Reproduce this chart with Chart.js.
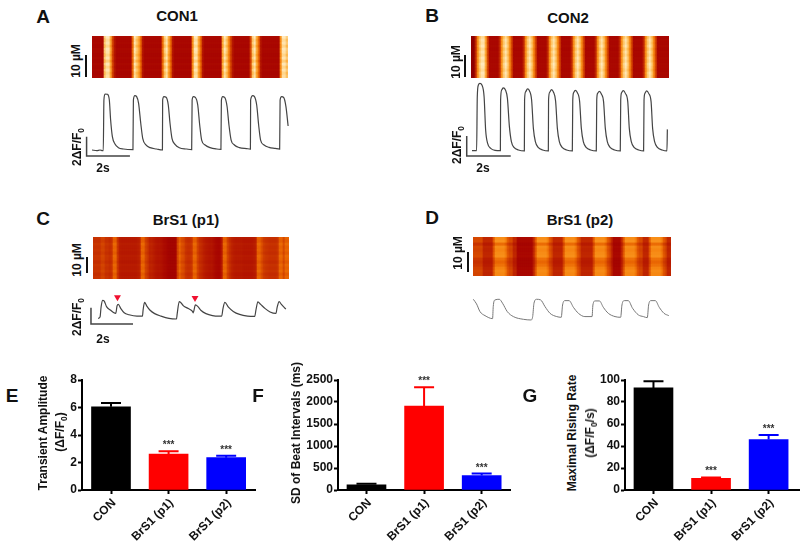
<!DOCTYPE html>
<html lang="en">
<head>
<meta charset="UTF-8">
<title>Calcium transients</title>
<script src="https://cdn.jsdelivr.net/npm/chart.js"></script>
<style>
    html, body { margin: 0; padding: 0; background: #fff; overflow: hidden; }
    body { width: 800px; height: 548px; position: relative; font-family: "Liberation Sans", Arial, sans-serif; font-weight: bold; color: #111; }
    canvas { position: absolute; }
    .txt { position: absolute; white-space: nowrap; line-height: 1; transform: translate(-50%, -50%); }
    .txt sub { font-size: 70%; line-height: 0; }
    .bar { position: absolute; background: #111; }
</style>
</head>
<body>
<script>
// bar panels
const groups = ['CON', 'BrS1 (p1)', 'BrS1 (p2)'];
const barColors = ['#000000', '#ff0000', '#0000ff'];
const stars = ['', '***', '***'];
const amplitudeMean = [6.05, 2.62, 2.35];
const amplitudeTop = [6.33, 2.81, 2.5];
const intervalMean = [120, 1907, 330];
const intervalTop = [143, 2335, 375];
const risingMean = [92.8, 10.5, 45.8];
const risingTop = [98.8, 11.4, 50];

// traces: time in s, signal in dF/F0
const traceAt = [0,.22,.37,.49,.52,.55,.60,.71,.80,.86,.94,1.06,1.22,1.45,1.89,1.91,1.98,2.06,2.15,2.25,2.34,2.49,2.68,2.98,3.25,3.26,3.32,3.42,3.52,3.60,3.69,3.83,4.03,4.37,4.60,4.62,4.68,4.77,4.88,4.97,5.06,5.22,5.45,5.75,5.95,5.97,6.03,6.12,6.23,6.32,6.42,6.57,6.80,7.14,7.31,7.32,7.42,7.49,7.60,7.69,7.78,7.94,8.17,8.45,8.66,8.68,8.75,8.85,8.95,9.05];
const traceAv = [.07,0,.07,0,0,5.24,5.86,5.83,5.24,3.17,1.45,.69,.31,.17,.10,5.24,5.69,5.59,4.90,2.83,1.28,.59,.31,.17,.07,5.24,5.59,5.52,4.72,2.83,1.28,.66,.31,.17,.10,5.24,5.59,5.52,4.72,2.66,1.10,.59,.31,.17,.14,5.17,5.59,5.52,4.62,2.66,1.10,.59,.31,.21,.17,5.24,5.69,5.62,4.72,2.66,1.10,.59,.34,.24,.17,5.24,5.59,5.48,4.55,2.55];
const traceBt = [0,.21,.24,.29,.36,.45,.55,.62,.71,.85,1.05,1.29,1.30,1.35,1.42,1.52,1.61,1.70,1.79,1.92,2.11,2.38,2.39,2.44,2.52,2.61,2.71,2.79,2.88,3.02,3.21,3.47,3.48,3.53,3.61,3.70,3.80,3.88,3.97,4.11,4.30,4.56,4.58,4.62,4.70,4.79,4.89,4.97,5.06,5.20,5.39,5.65,5.67,5.71,5.79,5.88,5.98,6.06,6.15,6.29,6.48,6.74,6.76,6.80,6.88,6.97,7.08,7.15,7.24,7.38,7.58,7.80,7.82,7.86,7.94,8.03,8.14,8.21,8.30,8.44,8.64,8.86,8.88];
const traceBv = [0,0,5.40,6.57,6.73,6.57,5.40,2.07,.73,.23,.03,0,5.07,6.07,6.27,6.07,5.23,2.40,.90,.30,.07,-.03,5.07,5.90,6.17,6.00,5.07,2.23,.90,.30,.07,-.03,5.07,5.83,6.10,5.87,4.97,2.23,.90,.30,.07,-.03,5.07,5.80,6.03,5.80,4.97,2.23,.90,.30,.07,-.03,5.07,5.73,5.93,5.67,4.90,2.23,.90,.30,.07,-.03,5.07,5.80,6.00,5.73,4.90,2.23,.90,.30,.07,-.03,5.07,5.73,5.97,5.73,4.90,2.23,.90,.30,.07,-.03,2.13];
const traceCt = [0,.09,.14,.21,.29,.40,.58,.75,.84,.90,.96,1.08,1.24,1.47,1.85,2.11,2.14,2.21,2.31,2.46,2.69,2.99,3.37,3.73,3.76,3.86,3.95,4.06,4.29,4.49,4.52,4.63,4.75,4.90,5.13,5.44,5.74,5.88,5.94,6.03,6.20,6.43,6.73,7.11,7.45,7.51,7.60,7.73,7.95,8.18,8.46,8.52,8.61,8.72,8.84,8.93];
const traceCv = [.17,.34,1.55,2.41,2.31,1.62,1.21,.86,.79,1.72,1.90,1.38,.86,.62,.45,.45,1.21,2.14,1.72,1.21,.76,.45,.17,.10,.69,2.24,2.07,1.72,1.38,1.03,.86,1.83,1.62,1.14,.76,.52,.45,.45,1.38,2.14,1.55,1.03,.66,.45,.41,1.21,2.21,1.90,1.38,.97,.79,1.55,2.24,1.90,1.55,1.31];
const traceDt = [0,.15,.31,.54,.89,.92,1.0,1.2,1.35,1.57,1.85,2.31,2.66,2.74,2.8,2.92,3.11,3.31,3.54,3.85,4.06,4.12,4.23,4.42,4.62,4.85,5.15,5.48,5.52,5.62,5.82,6.0,6.23,6.54,6.8,6.86,6.97,7.15,7.35,7.62,7.85,8.03,8.09,8.2,8.4,8.58,8.8,9.02];
const traceDv = [2.07,1.59,.79,.38,.07,1.31,2.0,2.07,1.66,.79,.28,0,-.07,.28,1.66,2.07,2.0,1.31,.62,.28,.21,1.48,1.93,1.93,1.24,.62,.28,.28,1.48,1.90,1.90,1.24,.62,.28,.21,1.48,1.93,1.93,1.14,.45,.28,.17,1.48,1.93,1.93,1.24,.62,.38];

// scale bars (2 s, 2 dF/F0)
const scaleAt = [-.25,-.25,1.75], scaleAv = [1.45,-.55,-.55];
const scaleBt = [-.24,-.24,1.76], scaleBv = [1.47,-.53,-.53];
const scaleCt = [-.34,-.34,1.66], scaleCv = [1.48,-.52,-.52];
// red arrowheads in panel C
const arrowT = [.92, 4.61], arrowV = [2.79, 2.69];

// line scan columns, fluorescence level 0-9, and a per row shift
const scanA = [1,1,1,1,1,1,7,8,8,6,3,1.5,1,1,1,1,1,1,1,1,4,8,7,6,4,1.5,1,1,1,1,1,1,1,1,1,4,7,8,6,4,1.5,1,1,1,1,1,1,1,1,1,5,8,8,6,4,1.5,1,1,1,1,1,1,1,1,1,6,8,7,5,3,1.5,1,1,1,1,1,1,1,1,3,7,8,6,4,1.5,1,1,1,1,1,1,1,1,1,5,8,8,7];
const scanB = [0,0,2,5,7,8,8,6,3,1,1,1,1,1,2,5,7,8,7,5,3,1,1,1,1,1,2,5,7,8,7,5,3,1,1,1,1,1,2,5,7,8,7,5,3,1,1,1,1,1,2,5,7,8,7,5,3,1,1,1,1,1,2,5,7,8,7,5,3,1,1,1,1,1,2,5,7,8,7,5,3,1,1,1,1,1,2,5,7,8,7,5,3,1,1,1,1,1,1];
const scanC = [2.5,2.5,2.5,2.5,3,3,2.5,2.5,2.3,2.5,4,4,2.6,1.8,1.7,1.7,1.7,1.7,1.7,1.7,1.7,1.7,1.8,2,4,4,3,2.6,2,2,1.8,1.6,1.5,1.5,1.4,1.2,1.1,.9,.8,.8,.8,.9,3,4,3.4,3.2,2.6,2.4,2.4,2.6,4,4,3,2.4,2.2,1.9,1.7,1.6,1.5,1.5,1.3,1.1,1,1,1.6,4,4,3,2.4,2,1.8,1.7,1.7,1.7,1.7,1.6,1.6,1.6,1.6,1.6,1.7,1.9,4,4,3.4,2.8,2.6,2.5,2.4,2.4,2.4,2.4,2.6,4,4,3.2,4,4];
const scanD = [3,3,3,3,3,2,2,2,2,2,3.5,5,5,5,5,5,4.5,3.5,3,3,2,2,1,1,1,1,1,1,1,1,2,3.5,5,5,5,5,5,4.5,3.5,3,2,2,2,2,2,3.5,5,5,5,5,5,4.5,3.5,3,2,2,2,2,2,2,3.5,5,5,5,5,5,4.5,3.5,3,2,1,1,1,1,2,3.5,5,5,5,5,5,4.5,3.5,3,3,2,2,2,3.5,5,5,5,5,5,4.5,3.5,3,2,2];
const rowsA = [.3,0,.5,0,.6,-.2,.5,0,.4,.6,0,.5,.2,.7];
const rowsB = [.4,.6,.2,.5,.7,.3,.6,.2,.5,.1,.6,.3,.5,.1];
const rowsC = [.2,-.2,.4,0,.3,-.3,.2,.4,-.2,.2,0,.4,-.2,.1];
const rowsD = [.2,.4,0,-.6,-1,-.6,.6,.4,.1,.4,-.8,.7,.5];
const heatStops = ['#8e0000','#a80600','#bc2200','#d04000','#e66000','#f58410','#fb9c24','#fdb850','#fed68c','#ffeac0'];

function addCanvas(left, top, width, height) {
    const c = document.createElement('canvas');
    c.width = width;
    c.height = height;
    c.style.left = left + 'px';
    c.style.top = top + 'px';
    c.style.width = width + 'px';
    c.style.height = height + 'px';
    document.body.appendChild(c);
    return c;
}

function heatColor(level) {
    const l = Math.max(0, Math.min(9, level));
    const i = Math.min(8, Math.floor(l));
    const f = l - i;
    const a = parseInt(heatStops[i].slice(1), 16), b = parseInt(heatStops[i + 1].slice(1), 16);
    const mix = s => Math.round(((a >> s) & 255) * (1 - f) + ((b >> s) & 255) * f);
    return `rgb(${mix(16)},${mix(8)},${mix(0)})`;
}

// Line scan image: one stacked bar per column, one dataset per row
function scanChart(left, top, columns, rowShift) {
    const rowPx = 3;
    const canvas = addCanvas(left, top, columns.length * 2, rowShift.length * rowPx);
    new Chart(canvas, {
        type: 'bar',
        data: {
            labels: columns.map((_, i) => i),
            datasets: rowShift.map(shift => ({
                data: columns.map(() => 1),
                backgroundColor: columns.map(level => heatColor(level + shift * level / 6)),
                borderWidth: 0,
                barPercentage: 1,
                categoryPercentage: 1
            }))
        },
        options: {
            responsive: false,
            animation: false,
            events: [],
            layout: { padding: 0 },
            plugins: { legend: { display: false }, tooltip: { enabled: false } },
            scales: {
                x: { display: false, stacked: true },
                y: { display: false, stacked: true, min: 0, max: rowShift.length }
            }
        }
    });
}

function toPoints(t, v) {
    return t.map((x, i) => ({ x: x, y: v[i] }));
}

// box = canvas position, x0/y0 = page pixel of t=0 and signal=0
function traceChart(box, x0, pxPerSec, y0, pxPerUnit, extra, lineColor, lineWidth) {
    const canvas = addCanvas(box.left, box.top, box.w, box.h);
    new Chart(canvas, {
        type: 'line',
        data: { datasets: [Object.assign({
            borderColor: lineColor,
            borderWidth: lineWidth,
            pointRadius: 0,
            cubicInterpolationMode: 'monotone'
        }, extra.trace)].concat(extra.more) },
        options: {
            responsive: false,
            animation: false,
            events: [],
            layout: { padding: 0 },
            plugins: { legend: { display: false }, tooltip: { enabled: false } },
            scales: {
                x: { type: 'linear', display: false, min: (box.left - x0) / pxPerSec, max: (box.left + box.w - x0) / pxPerSec },
                y: { type: 'linear', display: false, min: (y0 - box.top - box.h) / pxPerUnit, max: (y0 - box.top) / pxPerUnit }
            }
        }
    });
}

function scaleBar(t, v) {
    return { data: toPoints(t, v), borderColor: '#444', borderWidth: 1.5, pointRadius: 0, tension: 0 };
}

// Bar panel. y axis line sits at axisX, x range chosen so the bars land where they do in the figure
function barChart(axisX, rightX, firstCenter, yMax, yStep, means, tops) {
    const yWidth = 42, catPx = 55.6;
    const canvas = addCanvas(axisX - yWidth, 370, rightX - axisX + yWidth + 6, 178);
    const errorBars = {
        id: 'errorBars',
        afterDatasetsDraw(chart) {
            const ctx = chart.ctx, x = chart.scales.x, y = chart.scales.y;
            ctx.save();
            tops.forEach((top, i) => {
                const px = x.getPixelForValue(i), py = y.getPixelForValue(top);
                ctx.strokeStyle = barColors[i];
                ctx.lineWidth = 2;
                ctx.beginPath();
                ctx.moveTo(px, y.getPixelForValue(means[i]));
                ctx.lineTo(px, py);
                ctx.moveTo(px - 10, py);
                ctx.lineTo(px + 10, py);
                ctx.stroke();
                if (stars[i]) {
                    ctx.fillStyle = '#333';
                    ctx.font = 'bold 10px "Liberation Sans"';
                    ctx.textAlign = 'center';
                    ctx.textBaseline = 'alphabetic';
                    ctx.fillText(stars[i], px, py - 3);
                }
            });
            ctx.restore();
        }
    };
    new Chart(canvas, {
        type: 'bar',
        data: { datasets: [{
            data: means.map((m, i) => ({ x: i, y: m })),
            backgroundColor: barColors,
            borderWidth: 0,
            barThickness: 39
        }] },
        plugins: [errorBars],
        options: {
            responsive: false,
            animation: false,
            events: [],
            layout: { padding: { top: 10, left: 0, right: 0, bottom: 0 } },
            plugins: { legend: { display: false }, tooltip: { enabled: false } },
            scales: {
                x: {
                    type: 'linear',
                    offset: false,
                    min: (axisX - firstCenter) / catPx,
                    max: (rightX - firstCenter) / catPx,
                    afterBuildTicks(scale) { scale.ticks = groups.map((_, i) => ({ value: i })); },
                    afterFit(scale) { scale.height = 58; scale.paddingLeft = 0; scale.paddingRight = 0; },
                    border: { color: '#000', width: 2 },
                    grid: { offset: false, drawOnChartArea: false, color: '#000', tickLength: 4, tickWidth: 2 },
                    ticks: {
                        autoSkip: false, minRotation: 45, maxRotation: 45, color: '#111', padding: 2, labelOffset: 3,
                        font: { family: '"Liberation Sans"', size: 12, weight: 'bold' },
                        callback: value => groups[value]
                    }
                },
                y: {
                    min: 0, max: yMax,
                    afterFit(scale) { scale.width = yWidth; },
                    border: { color: '#000', width: 2 },
                    grid: { drawOnChartArea: false, color: '#000', tickLength: 4, tickWidth: 2 },
                    ticks: {
                        stepSize: yStep, color: '#111', padding: 1,
                        font: { family: '"Liberation Sans"', size: 12, weight: 'bold' },
                        callback: value => String(value)
                    }
                }
            }
        }
    });
}

function label(html, x, y, size, rotated) {
    const d = document.createElement('div');
    d.className = 'txt';
    d.innerHTML = html;
    d.style.left = x + 'px';
    d.style.top = y + 'px';
    d.style.fontSize = size + 'px';
    if (rotated) d.style.transform = 'translate(-50%, -50%) rotate(-90deg)';
    document.body.appendChild(d);
}

function vbar(x, y1, y2) {
    const d = document.createElement('div');
    d.className = 'bar';
    d.style.cssText = `left:${x}px;top:${y1}px;width:2px;height:${y2 - y1}px`;
    document.body.appendChild(d);
}

scanChart(92, 36, scanA, rowsA);
scanChart(471, 36, scanB, rowsB);
scanChart(93, 237, scanC, rowsC);
scanChart(473, 237, scanD, rowsD);

traceChart({ left: 80, top: 85, w: 215, h: 85 }, 92, 21.67, 150.67, 9.67,
    { trace: { data: toPoints(traceAt, traceAv) }, more: [scaleBar(scaleAt, scaleAv)] }, '#444', 1.2);
traceChart({ left: 460, top: 75, w: 215, h: 95 }, 472, 22, 150.67, 10,
    { trace: { data: toPoints(traceBt, traceBv) }, more: [scaleBar(scaleBt, scaleBv)] }, '#444', 1.2);
traceChart({ left: 80, top: 285, w: 215, h: 50 }, 94.67, 21.83, 321.67, 9.67,
    { trace: { data: toPoints(traceCt, traceCv) }, more: [scaleBar(scaleCt, scaleCv),
        { data: toPoints(arrowT, arrowV), showLine: false, pointStyle: 'triangle', rotation: 180, pointRadius: 4, backgroundColor: '#f01030', borderWidth: 0 }] }, '#444', 1.2);
traceChart({ left: 465, top: 285, w: 210, h: 50 }, 473.3, 21.67, 319.3, 9.67,
    { trace: { data: toPoints(traceDt, traceDv) }, more: [] }, '#777', 1);

barChart(82, 250, 110, 8, 2, amplitudeMean, amplitudeTop);
barChart(338, 505, 365.5, 2500, 500, intervalMean, intervalTop);
barChart(625, 794, 652.5, 100, 20, risingMean, risingTop);

// panel letters
label('A', 43, 16, 19); label('B', 432, 15, 19); label('C', 43, 218, 19); label('D', 432, 217, 19);
label('E', 12, 395, 19); label('F', 258, 395, 19); label('G', 530, 395, 19);
// panel titles
label('CON1', 177, 15, 15); label('CON2', 568, 17, 15);
label('BrS1 (p1)', 186, 219, 15); label('BrS1 (p2)', 580, 219, 15);
// scale labels
const dF = '2ΔF/F<sub>0</sub>';
label('10 µM', 76, 61, 12, true); label('10 µM', 456, 62, 12, true);
label('10 µM', 77, 260, 12, true); label('10 µM', 458, 253, 12, true);
vbar(85, 55, 77); vbar(464, 55, 77); vbar(86, 257, 273); vbar(467, 252, 272);
label(dF, 77, 147, 12, true); label(dF, 457, 145, 12, true); label(dF, 77, 317, 12, true);
label('2s', 103, 168, 12); label('2s', 483, 168, 12); label('2s', 103, 339, 12);
// axis titles
label('Transient Amplitude', 43, 433, 12, true);
label('(ΔF/F<sub>0</sub>)', 60, 432, 12, true);
label('SD of Beat Intervals (ms)', 296, 433, 12, true);
label('Maximal Rising Rate', 572, 433, 12, true);
label('(ΔF/F<sub>0</sub>/s)', 590, 433, 12, true);
</script>
</body>
</html>
